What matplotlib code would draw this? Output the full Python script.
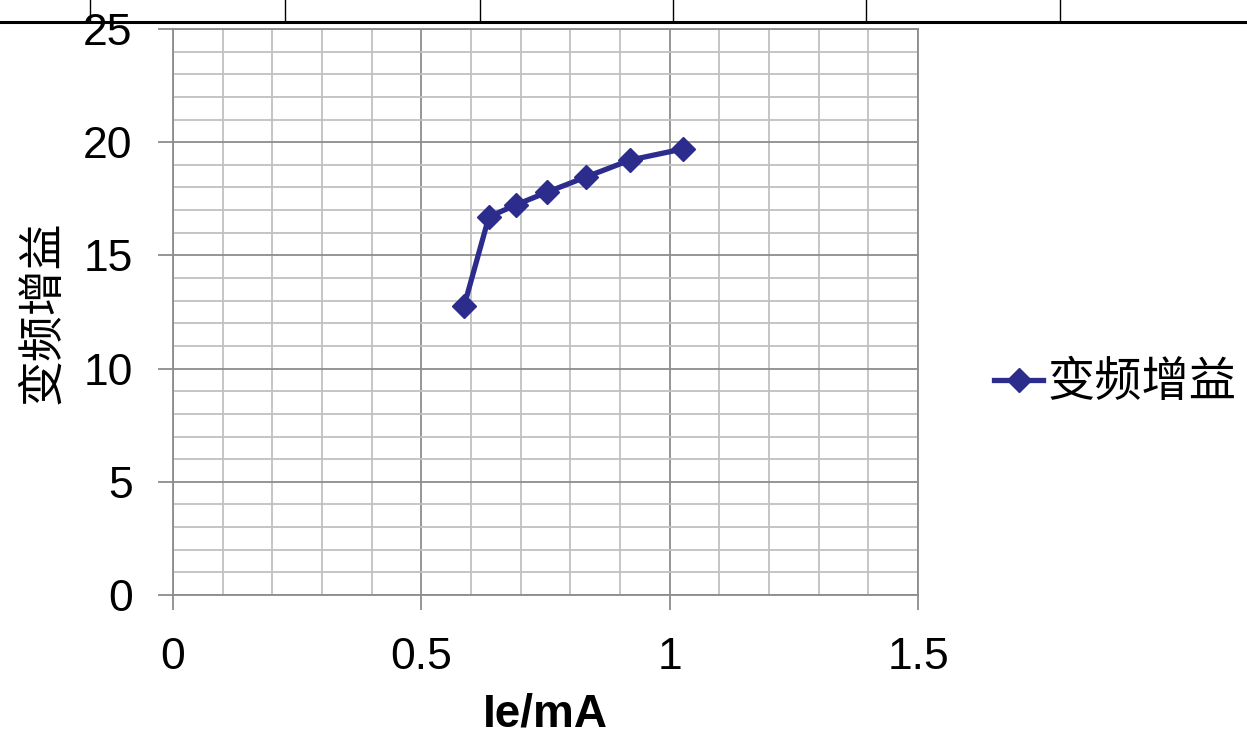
import matplotlib
matplotlib.use("Agg")
import matplotlib.pyplot as plt
from matplotlib.lines import Line2D
from matplotlib.ticker import MultipleLocator

plt.rcParams['font.family'] = ['Liberation Sans', 'Noto Sans CJK SC', 'DejaVu Sans']

# emitter current (mA) vs conversion gain
ie = [0.586, 0.636, 0.690, 0.754, 0.831, 0.920, 1.026]
gain = [12.76, 16.70, 17.23, 17.80, 18.46, 19.21, 19.70]
series_name = '变频增益'

navy = '#2B2C8C'
minor_grey = '#C0C0C0'
major_grey = '#8C8C8C'

fig = plt.figure(figsize=(12.47, 7.35), dpi=100)
ax = fig.add_axes([0.1387, 0.1905, 0.5975, 0.7700])

ax.plot(ie, gain, color=navy, lw=3.8, marker='D', ms=12, mec=navy, mfc=navy,
        label=series_name, zorder=5, clip_on=False)

ax.set_xlim(0, 1.5)
ax.set_ylim(0, 25)
ax.xaxis.set_major_locator(MultipleLocator(0.5))
ax.xaxis.set_minor_locator(MultipleLocator(0.1))
ax.yaxis.set_major_locator(MultipleLocator(5))
ax.yaxis.set_minor_locator(MultipleLocator(1))
ax.xaxis.set_major_formatter(plt.FuncFormatter(lambda v, p: f'{v:g}'))

ax.grid(which='minor', color=minor_grey, lw=1.3)
ax.grid(which='major', color=major_grey, lw=1.3)
ax.set_axisbelow(True)

for s in ax.spines.values():
    s.set_color(major_grey)
    s.set_linewidth(1.3)

ax.tick_params(which='major', length=11, width=1.3, color=major_grey,
               labelsize=32, labelcolor='black')
ax.tick_params(axis='x', which='major', pad=19)
ax.tick_params(axis='y', which='major', pad=18)
ax.tick_params(which='minor', length=0)

ax.set_xlabel('Ie/mA', fontsize=33, fontweight='bold', labelpad=11)
ax.set_ylabel(series_name, fontsize=33, family=['Noto Sans CJK SC'], labelpad=12)

fig.legend(loc='center left', bbox_to_anchor=(0.797, 0.479), frameon=False,
           prop={'family': ['Noto Sans CJK SC'], 'size': 34},
           handlelength=1.05, handletextpad=0.08, borderpad=0, borderaxespad=0)

# border of the table row above the chart
fig.add_artist(Line2D([0, 1], [0.970, 0.970], color='black', lw=2.2))
for xpos in [0.0722, 0.2285, 0.3849, 0.5397, 0.6945, 0.8500]:
    fig.add_artist(Line2D([xpos, xpos], [0.970, 1.0], color='black', lw=1.0))

fig.savefig('out.png', dpi=100)
